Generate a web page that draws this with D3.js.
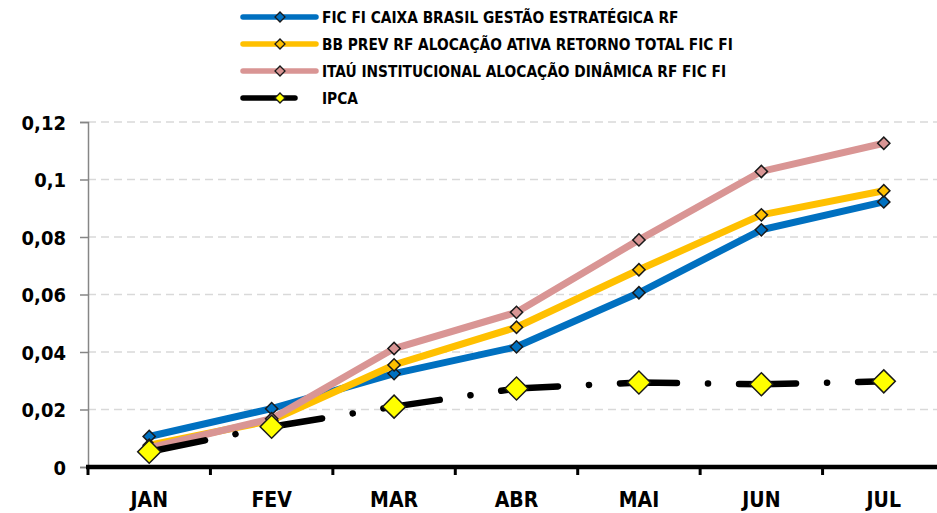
<!DOCTYPE html>
<html>
<head>
<meta charset="utf-8">
<script src="https://cdn.jsdelivr.net/npm/d3@7"></script>
<style>
  body { margin: 0; background: #fff; }
  svg text { font-family: "DejaVu Sans Condensed", "DejaVu Sans", sans-serif; font-stretch: condensed; font-weight: bold; fill: #000; }
</style>
</head>
<body>
<svg id="chart" width="937" height="513"></svg>
<script>
const months = ['JAN', 'FEV', 'MAR', 'ABR', 'MAI', 'JUN', 'JUL'];
const yTicks = [0, 0.02, 0.04, 0.06, 0.08, 0.1, 0.12];

const caixa = [0.0106, 0.0203, 0.0325, 0.0418, 0.0606, 0.0825, 0.0922];
const bbPrev = [0.0076, 0.0162, 0.0355, 0.0486, 0.0686, 0.0877, 0.0961];
const itau = [0.0066, 0.0168, 0.0412, 0.0538, 0.0790, 0.1028, 0.1126];
const ipca = [0.0053, 0.0140, 0.0210, 0.0273, 0.0294, 0.0288, 0.0298];

const series = [
  { name: 'FIC FI CAIXA BRASIL GESTÃO ESTRATÉGICA RF', values: caixa, color: '#0070C0' },
  { name: 'BB PREV RF ALOCAÇÃO ATIVA RETORNO TOTAL FIC FI', values: bbPrev, color: '#FFC000' },
  { name: 'ITAÚ INSTITUCIONAL ALOCAÇÃO DINÂMICA RF FIC FI', values: itau, color: '#D99594' },
  { name: 'IPCA', values: ipca, color: '#000', marker: '#FFFF00', dashed: true }
];

const svg = d3.select('#chart');
const plotLeft = 88, plotRight = 945, plotTop = 122, plotBottom = 467;

const x = d3.scaleBand().domain(months).range([plotLeft, plotRight]).padding(0);
const cx = m => x(m) + x.bandwidth() / 2;
const y = d3.scaleLinear().domain([0, 0.12]).range([plotBottom, plotTop]);

// gridlines
svg.append('g')
  .selectAll('line')
  .data(yTicks.slice(1))
  .enter().append('line')
  .attr('x1', plotLeft).attr('x2', 937)
  .attr('y1', d => y(d)).attr('y2', d => y(d))
  .attr('stroke', '#d9d9d9')
  .attr('stroke-width', 1.5)
  .attr('stroke-dasharray', '8,5');

// y axis
const yAxis = svg.append('g')
  .attr('transform', `translate(${plotLeft},0)`)
  .call(d3.axisLeft(y).tickValues(yTicks).tickSize(8).tickPadding(14)
    .tickFormat(d => d3.format('.2~f')(d).replace('.', ',')));
yAxis.select('.domain').attr('stroke', '#868686').attr('stroke-width', 1.5);
yAxis.selectAll('.tick line').attr('stroke', '#868686').attr('stroke-width', 1.5);
yAxis.selectAll('.tick text').attr('font-size', 20).attr('dy', '0.35em');

// x axis
const xAxis = svg.append('g')
  .attr('transform', `translate(0,${plotBottom})`)
  .call(d3.axisBottom(x).tickSize(0).tickPadding(25));
xAxis.select('.domain').remove();
xAxis.selectAll('.tick text').attr('font-size', 21);
xAxis.append('line')
  .attr('x1', plotLeft - 2).attr('x2', 937)
  .attr('stroke', '#000').attr('stroke-width', 4.5);
xAxis.selectAll('.boundary')
  .data(months.slice(1))
  .enter().append('line')
  .attr('x1', d => x(d)).attr('x2', d => x(d))
  .attr('y1', 0).attr('y2', 8)
  .attr('stroke', '#000').attr('stroke-width', 3);
xAxis.append('line')
  .attr('x1', plotLeft).attr('x2', plotLeft)
  .attr('y1', 0).attr('y2', 8)
  .attr('stroke', '#000').attr('stroke-width', 3);

const line = d3.line()
  .x((d, i) => cx(months[i]))
  .y(d => y(d));

const diamond = size => d3.symbol().type(d3.symbolSquare).size(size)();

series.forEach(s => {
  const g = svg.append('g');
  g.append('path')
    .datum(s.values)
    .attr('d', line)
    .attr('fill', 'none')
    .attr('stroke', s.color)
    .attr('stroke-width', s.dashed ? 6.5 : 7)
    .attr('stroke-linecap', 'round')
    .attr('stroke-linejoin', 'round')
    .attr('stroke-dasharray', s.dashed ? '57,31,0.1,31' : null);
  g.selectAll('path.mk')
    .data(s.values)
    .enter().append('path')
    .attr('class', 'mk')
    .attr('d', diamond(s.dashed ? 265 : 75))
    .attr('transform', (d, i) => `translate(${cx(months[i])},${y(d)}) rotate(45)`)
    .attr('fill', s.marker || s.color)
    .attr('stroke', '#1a1a1a')
    .attr('stroke-width', 1.5);
});

// legend
const legend = svg.append('g');
const rowY = [17, 44, 71, 98];
series.forEach((s, i) => {
  const row = legend.append('g').attr('transform', `translate(0,${rowY[i]})`);
  row.append('line')
    .attr('x1', 243).attr('x2', s.dashed ? 295 : 316)
    .attr('stroke', s.color)
    .attr('stroke-width', 5.5)
    .attr('stroke-linecap', 'round');
  row.append('path')
    .attr('d', diamond(50))
    .attr('transform', 'translate(280,0) rotate(45)')
    .attr('fill', s.marker || s.color)
    .attr('stroke', '#1a1a1a')
    .attr('stroke-width', 1.3);
  row.append('text')
    .attr('x', 322).attr('y', 0)
    .attr('dy', '0.36em')
    .attr('font-size', 15.3)
    .text(s.name);
});
</script>
</body>
</html>
